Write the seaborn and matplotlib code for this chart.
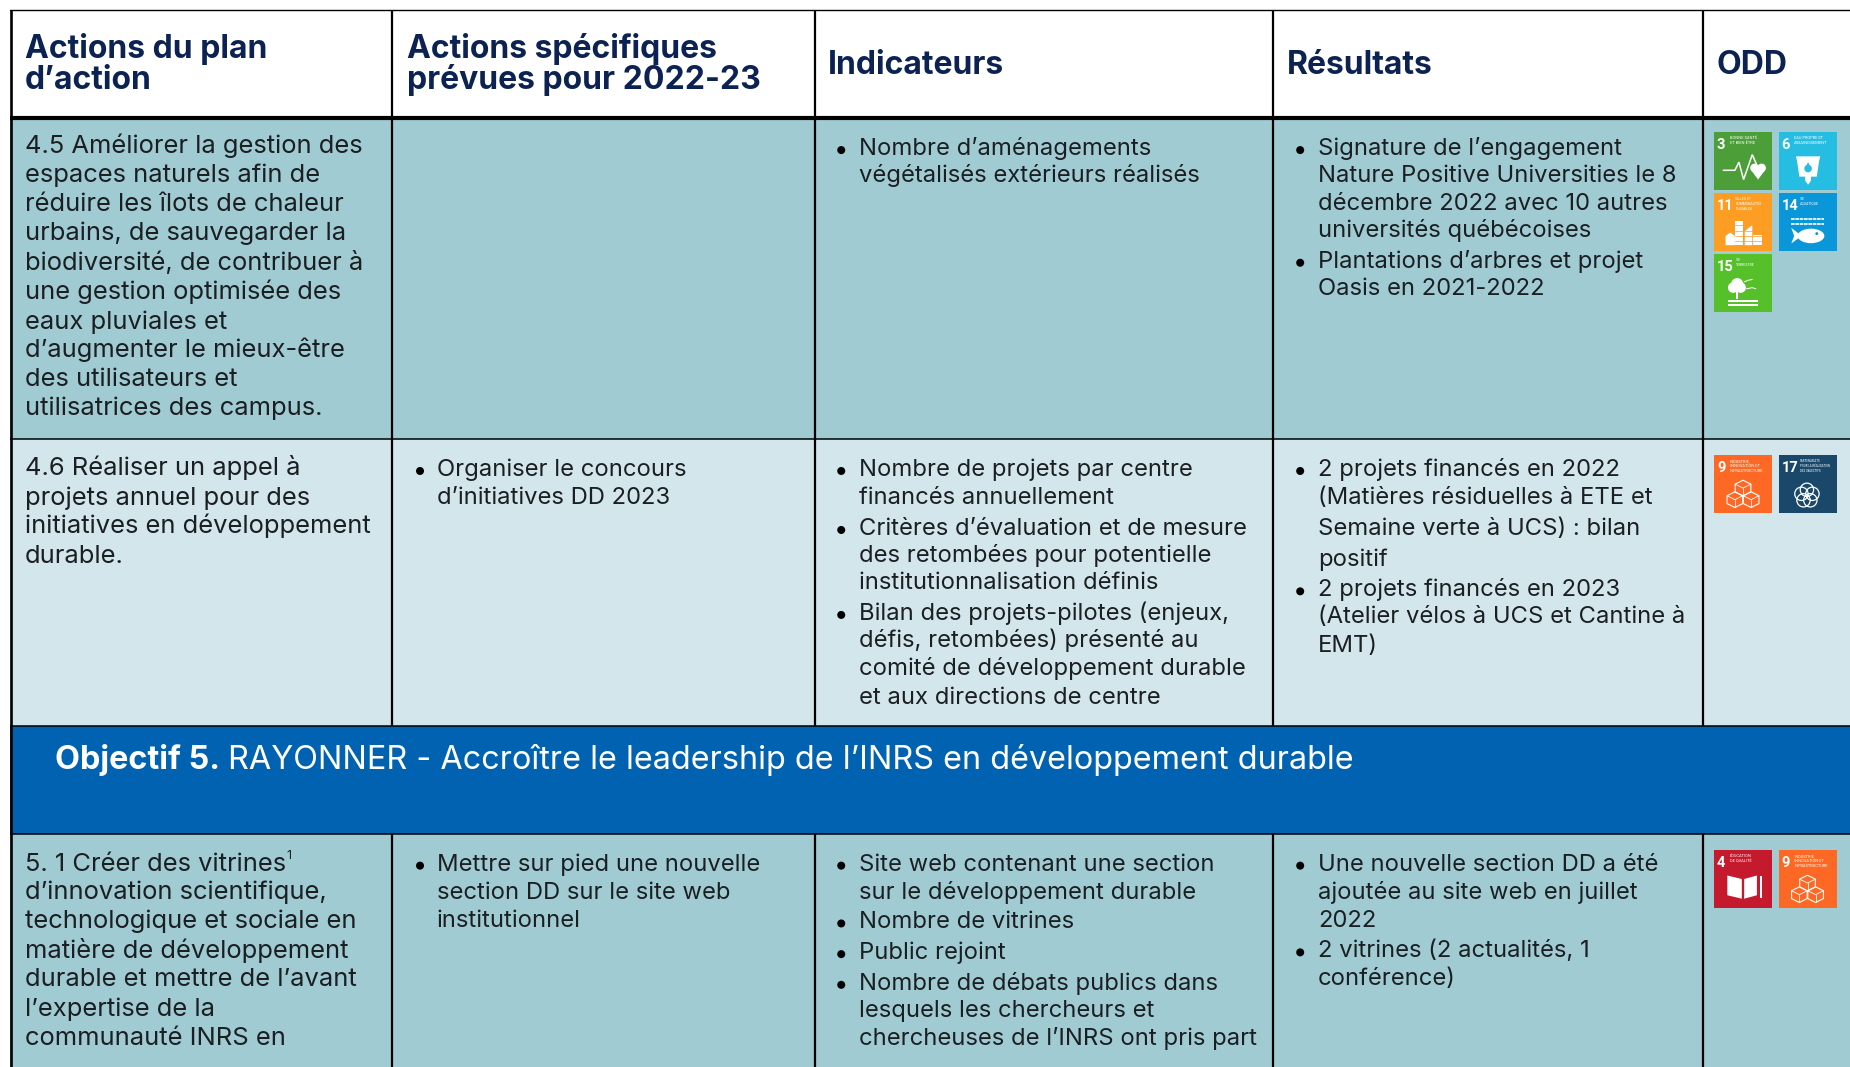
import numpy as np
import matplotlib
matplotlib.use("Agg")
import matplotlib.pyplot as plt
from matplotlib import font_manager as fm
from matplotlib.colors import ListedColormap
from matplotlib.patches import Rectangle, Polygon, Circle, Ellipse
import seaborn as sns

sns.set_theme(style="white")
FONT = ["Inter", "DejaVu Sans"]
plt.rcParams["font.family"] = FONT
installed = {f.name for f in fm.fontManager.ttflist}
NARROW = "Liberation Sans Narrow" if "Liberation Sans Narrow" in installed else "Roboto"

# ---------- content ----------
HEAD = [["Actions du plan", "d’action"], ["Actions spécifiques", "prévues pour 2022-23"],
        ["Indicateurs"], ["Résultats"], ["ODD"]]

R1_ACTION = ["4.5 Améliorer la gestion des", "espaces naturels afin de", "réduire les îlots de chaleur",
             "urbains, de sauvegarder la", "biodiversité, de contribuer à", "une gestion optimisée des",
             "eaux pluviales et", "d’augmenter le mieux-être", "des utilisateurs et",
             "utilisatrices des campus."]
R1_IND = [["Nombre d’aménagements", "végétalisés extérieurs réalisés"]]
R1_RES = [["Signature de l’engagement", "Nature Positive Universities le 8", "décembre 2022 avec 10 autres",
           "universités québécoises"],
          ["Plantations d’arbres et projet", "Oasis en 2021-2022"]]

R2_ACTION = ["4.6 Réaliser un appel à", "projets annuel pour des", "initiatives en développement", "durable."]
R2_SPEC = [["Organiser le concours", "d’initiatives DD 2023"]]
R2_IND = [["Nombre de projets par centre", "financés annuellement"],
          ["Critères d’évaluation et de mesure", "des retombées pour potentielle", "institutionnalisation définis"],
          ["Bilan des projets-pilotes (enjeux,", "défis, retombées) présenté au",
           "comité de développement durable", "et aux directions de centre"]]
R2_RES = [["2 projets financés en 2022", "(Matières résiduelles à ETE et", "Semaine verte à UCS) : bilan", "positif"],
          ["2 projets financés en 2023", "(Atelier vélos à UCS et Cantine à", "EMT)"]]

BANNER_BOLD = "Objectif 5."
BANNER_TEXT = "RAYONNER - Accroître le leadership de l’INRS en développement durable"

R3_ACTION = ["5. 1 Créer des vitrines", "d’innovation scientifique,", "technologique et sociale en",
             "matière de développement", "durable et mettre de l’avant", "l’expertise de la",
             "communauté INRS en"]
R3_SPEC = [["Mettre sur pied une nouvelle", "section DD sur le site web", "institutionnel"]]
R3_IND = [["Site web contenant une section", "sur le développement durable"], ["Nombre de vitrines"],
          ["Public rejoint"],
          ["Nombre de débats publics dans", "lesquels les chercheurs et",
           "chercheuses de l’INRS ont pris part"]]
R3_RES = [["Une nouvelle section DD a été", "ajoutée au site web en juillet", "2022"],
          ["2 vitrines (2 actualités, 1", "conférence)"]]

SDG_LABEL = {3: "BONNE SANTÉ\nET BIEN-ÊTRE", 6: "EAU PROPRE ET\nASSAINISSEMENT",
             11: "VILLES ET\nCOMMUNAUTÉS\nDURABLES", 14: "VIE\nAQUATIQUE", 15: "VIE\nTERRESTRE",
             9: "INDUSTRIE,\nINNOVATION ET\nINFRASTRUCTURE",
             17: "PARTENARIATS\nPOUR LA RÉALISATION\nDES OBJECTIFS", 4: "ÉDUCATION\nDE QUALITÉ"}
SDG_COLOR = {3: "#4c9f38", 6: "#26bde2", 11: "#fd9d24", 14: "#0a97d9", 15: "#56c02b",
             9: "#fd6925", 17: "#19486a", 4: "#c5192d"}

# ---------- layout (reference pixels) ----------
W, H = 1850, 1067
S = 1850 / 1568
BAND_EDGES = [0, 118, 439, 726, 834, 1067]
BAND_KIND = [0, 1, 2, 3, 1]
BAND_COLORS = ["#ffffff", "#a0cbd3", "#d2e6ec", "#0062b0"]
COLS = [10.5, 392, 815, 1273, 1703]
NAVY = "#0b2252"
INK = "#1b1f22"
FS_BODY = 17.15
FS_FIRST = 18.4
FS_HEAD = 23.0
FS_BAN = 23.3

fig = plt.figure(figsize=(W / 100, H / 100), dpi=100, facecolor="white")

# band colours through seaborn's heatmap
bg = fig.add_axes([0, 0, 1, 1])
bands = np.repeat(BAND_KIND, np.diff(BAND_EDGES))[:, None]
bands = np.repeat(bands, 4, axis=1)
sns.heatmap(bands, ax=bg, cmap=ListedColormap(BAND_COLORS), vmin=-0.5, vmax=3.5, cbar=False,
            xticklabels=False, yticklabels=False)

ax = fig.add_axes([0, 0, 1, 1], facecolor="none")
ax.set_xlim(0, W)
ax.set_ylim(H, 0)
ax.axis("off")

ax.add_patch(Rectangle((0, 0), 10, H, fc="white", ec="none", zorder=1))
ax.add_patch(Rectangle((0, 0), W, 9.5, fc="white", ec="none", zorder=1))


def t(x, y, s, **kw):
    kw.setdefault("fontsize", FS_BODY)
    kw.setdefault("color", INK)
    return ax.text(x, y, s, va="baseline", ha=kw.pop("ha", "left"), zorder=5, **kw)


def lines(x, ys, txt, fs=FS_BODY):
    for y, s in zip(ys, txt):
        t(x * S, y * S + 7, s, fontsize=fs)


def blist(xb, xt, groups, ys):
    i = 0
    for g in groups:
        ax.add_patch(Circle((xb * S, ys[i] * S + 2), 4.0, fc="black", ec="none", zorder=5))
        lines(xt, ys[i:i + len(g)], g)
        i += len(g)


# header
for x, y, s in [(21, 39.5, HEAD[0][0]), (21, 66.5, HEAD[0][1]), (345, 39.5, HEAD[1][0]), (345, 66.5, HEAD[1][1]),
                (702, 53, HEAD[2][0]), (1091, 53, HEAD[3][0]), (1455, 53, HEAD[4][0])]:
    t(x * S, y * S + 11, s, fontsize=FS_HEAD, fontweight="bold", color=NAVY)

# body
lines(21, [123.5, 148.5, 172.5, 197.5, 222.5, 247.5, 272.5, 296.5, 321.5, 346],
      R1_ACTION, fs=FS_FIRST)
blist(713, 728, R1_IND, [125.5, 148])
blist(1102, 1117, R1_RES, [125.5, 148, 172, 195, 221, 244])

lines(21, [397, 422, 446, 471], R2_ACTION, fs=FS_FIRST)
blist(356, 370, R2_SPEC, [397.5, 421.5])
blist(713, 728, R2_IND, [397.5, 421.5, 447.5, 470.5, 493.5, 519.5, 542.5, 566.5, 590.5])
blist(1102, 1117, R2_RES, [397.5, 421.5, 447.5, 473.5, 499.5, 522.5, 546.5])

lines(21, [732, 756, 781, 806, 830, 855, 880], R3_ACTION, fs=FS_FIRST)
t(243 * S, 731 * S - 3, "1", fontsize=9)
blist(356, 370, R3_SPEC, [732, 756, 780])
blist(713, 728, R3_IND, [732, 756, 781, 807, 833, 856, 880])
blist(1102, 1117, R3_RES, [732, 756, 780, 805.5, 828.5])

# banner
t(47 * S, 643 * S + 10, BANNER_BOLD, fontsize=FS_BAN, fontweight="bold", color="white")
t(193 * S, 643 * S + 10, BANNER_TEXT, fontsize=FS_BAN, color="white")

# rules
ax.plot([COLS[0]] * 2, [10, H], color="black", lw=1.9, zorder=6, solid_capstyle="butt")
for x in COLS[1:]:
    for a, b in ((10, 726), (834, H)):
        ax.plot([x, x], [a, b], color="black", lw=1.6, zorder=6, solid_capstyle="butt")
ax.plot([10, W], [9.5, 9.5], color="black", lw=1.0, zorder=6)
ax.plot([10, W], [118, 118], color="black", lw=3.0, zorder=6, solid_capstyle="butt")
for y in (439, 726, 834):
    ax.plot([10, W], [y, y], color="black", lw=1.1, zorder=6, solid_capstyle="butt")


# ---------- SDG icons ----------
def icon(num, x0, y0, size=58.0):
    X = lambda u: x0 + u * size
    Y = lambda v: y0 + v * size
    P = lambda pts: [(X(u), Y(v)) for u, v in pts]
    ax.add_patch(Rectangle((x0, y0), size, size, fc=SDG_COLOR[num], ec="none", zorder=3))
    ax.text(X(0.05), Y(0.29), str(num), color="white", fontsize=10.5, fontweight="bold",
            family=[NARROW, "DejaVu Sans"], va="baseline", zorder=5)
    ax.text(X(0.27 if num < 10 else 0.37), Y(0.07), SDG_LABEL[num], color="white",
            fontsize=2.1 if num == 17 else (2.5 if num >= 10 else 2.9), va="top", linespacing=1.3, zorder=5,
            family=[NARROW, "DejaVu Sans"])
    wh = dict(fc="white", ec="none", zorder=5)
    ln = dict(color="white", zorder=5, solid_joinstyle="miter")
    if num == 3:
        ax.plot(*zip(*P([(.16, .66), (.36, .66), (.43, .52), (.51, .82), (.66, .39), (.76, .62)])), lw=1.1, **ln)
        for c in ((.70, .62), (.82, .62)):
            ax.add_patch(Circle((X(c[0]), Y(c[1])), size * .075, **wh))
        ax.add_patch(Polygon(P([(.635, .65), (.885, .65), (.76, .82)]), **wh))
    elif num == 6:
        ax.add_patch(Polygon(P([(.30, .42), (.72, .42), (.70, .50), (.66, .77), (.56, .77), (.56, .84),
                                (.51, .91), (.46, .84), (.46, .77), (.36, .77), (.32, .50)]), **wh))
        ax.add_patch(Circle((X(.51), Y(.63)), size * .065, fc=SDG_COLOR[6], ec="none", zorder=6))
        ax.add_patch(Polygon(P([(.51, .52), (.46, .62), (.56, .62)]), fc=SDG_COLOR[6], ec="none", zorder=6))
    elif num == 11:
        ax.add_patch(Polygon(P([(.20, .90), (.20, .74), (.28, .68), (.36, .74), (.36, .90)]), **wh))
        ax.add_patch(Rectangle((X(.37), Y(.48)), size * .13, size * .42, **wh))
        ax.add_patch(Polygon(P([(.53, .90), (.53, .66), (.66, .55), (.66, .90)]), **wh))
        ax.add_patch(Rectangle((X(.68), Y(.72)), size * .14, size * .18, **wh))
        for v in (.56, .65, .74, .83):
            ax.plot([X(.37), X(.82)], [Y(v), Y(v)], color=SDG_COLOR[11], lw=.5, zorder=6)
    elif num == 14:
        for v in (.44, .53):
            ax.plot([X(.22), X(.78)], [Y(v), Y(v)], color="white", lw=1.2, ls=(0, (2.2, .4)), zorder=5)
        ax.add_patch(Ellipse((X(.56), Y(.74)), size * .46, size * .25, **wh))
        ax.add_patch(Polygon(P([(.22, .60), (.40, .74), (.22, .87), (.27, .74)]), **wh))
        ax.add_patch(Circle((X(.66), Y(.70)), size * .025, fc=SDG_COLOR[14], ec="none", zorder=6))
    elif num == 15:
        ax.add_patch(Circle((X(.40), Y(.52)), size * .105, **wh))
        ax.add_patch(Circle((X(.33), Y(.58)), size * .09, **wh))
        ax.add_patch(Circle((X(.46), Y(.58)), size * .09, **wh))
        ax.add_patch(Rectangle((X(.385), Y(.62)), size * .03, size * .16, **wh))
        for v in (.80, .87):
            ax.add_patch(Rectangle((X(.24), Y(v)), size * .52, size * .035, **wh))
        ax.plot(*zip(*P([(.52, .48), (.60, .45), (.66, .44)])), lw=.7, **ln)
        ax.plot(*zip(*P([(.56, .60), (.66, .58), (.72, .60)])), lw=.7, **ln)
    elif num == 9:
        for cu, cv in ((.50, .57), (.36, .77), (.64, .77)):
            r = .135
            ax.add_patch(Polygon(P([(cu, cv - r), (cu + r, cv - r / 2), (cu + r, cv + r / 2), (cu, cv + r),
                                    (cu - r, cv + r / 2), (cu - r, cv - r / 2)]),
                                 fc="none", ec="white", lw=.8, zorder=5))
            ax.plot(*zip(*P([(cu - r, cv - r / 2), (cu, cv), (cu + r, cv - r / 2)])), lw=.6, **ln)
            ax.plot([X(cu), X(cu)], [Y(cv), Y(cv + r)], lw=.6, **ln)
    elif num == 17:
        for a in np.deg2rad([-90, -18, 54, 126, 198]):
            ax.add_patch(Circle((X(.49 + .10 * np.cos(a)), Y(.70 + .10 * np.sin(a))), size * .115,
                                fc="none", ec="white", lw=.9, zorder=5))
    elif num == 4:
        ax.add_patch(Polygon(P([(.23, .44), (.48, .50), (.48, .84), (.23, .78)]), **wh))
        ax.add_patch(Polygon(P([(.52, .50), (.74, .44), (.74, .78), (.52, .84)]), **wh))
        ax.add_patch(Rectangle((X(.79), Y(.44)), size * .04, size * .38, **wh))


for n, x, y in [(3, 1714, 132), (6, 1778.5, 132), (11, 1714, 193), (14, 1778.5, 193), (15, 1714, 254),
                (9, 1714, 455), (17, 1778.5, 455), (4, 1714, 850), (9, 1778.5, 850)]:
    icon(n, x, y)

fig.savefig("out.png", dpi=100, facecolor="white")
